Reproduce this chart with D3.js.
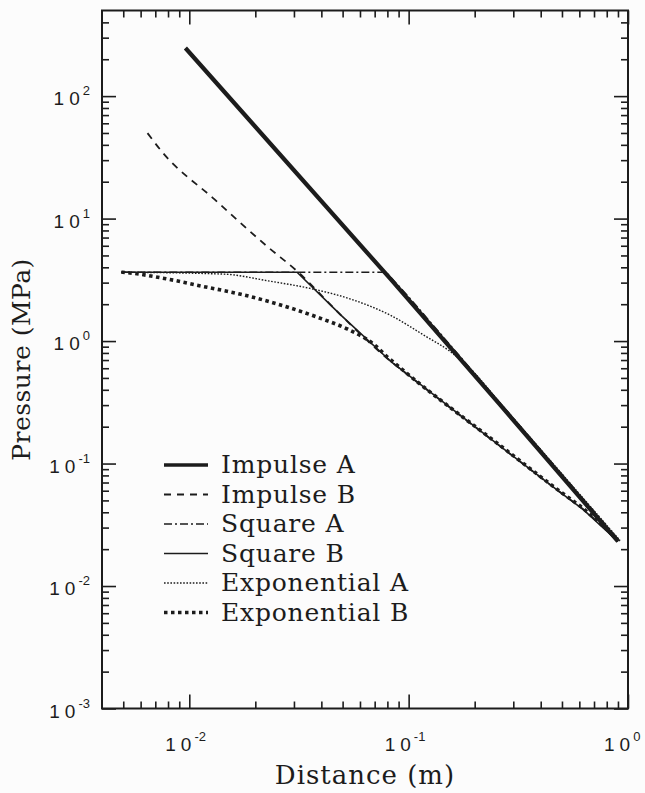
<!DOCTYPE html>
<html>
<head>
<meta charset="utf-8">
<script src="https://cdn.jsdelivr.net/npm/d3@7"></script>
<style>
  html, body { margin: 0; padding: 0; background: #fcfcfc; }
  svg { display: block; }
</style>
</head>
<body>
<script>
// Peak pressure versus distance for six source models, [distance (m), pressure (MPa)]
const impulseA = [[0.0096, 247], [0.0828, 3.2], [0.262, 0.30], [0.90, 0.0231]];
const impulseB = [[0.00645, 49.9], [0.00746, 35.6], [0.0130, 14.4], [0.0229, 5.83], [0.031, 3.72],
                  [0.0491, 1.63], [0.0828, 0.684], [0.092, 0.589], [0.262, 0.138], [0.491, 0.0582],
                  [0.624, 0.0423], [0.90, 0.0231]];
const squareA = [[0.0049, 3.65], [0.079, 3.65], [0.1, 2.3], [0.262, 0.31], [0.92, 0.0232]];
const squareB = [[0.0049, 3.65], [0.031, 3.65], [0.0491, 1.63], [0.0828, 0.684], [0.092, 0.589],
                 [0.262, 0.138], [0.491, 0.0582], [0.624, 0.0423], [0.90, 0.0231]];
const exponentialA = [[0.0049, 3.65], [0.0144, 3.52], [0.0229, 3.10], [0.0359, 2.68], [0.0545, 2.20],
                      [0.0828, 1.62], [0.119, 1.10], [0.155, 0.82], [0.19, 0.60],
                      [0.262, 0.31], [0.92, 0.0235]];
const exponentialB = [[0.0049, 3.65], [0.00518, 3.62], [0.00803, 3.20], [0.01135, 2.81], [0.0172, 2.41],
                      [0.0254, 2.00], [0.0386, 1.56], [0.0528, 1.25], [0.0693, 0.942], [0.0803, 0.738],
                      [0.092, 0.60], [0.262, 0.140], [0.491, 0.059], [0.624, 0.043], [0.92, 0.0228]];

const seriesNames = ["Impulse A", "Impulse B", "Square A", "Square B", "Exponential A", "Exponential B"];
const seriesData = [impulseA, impulseB, squareA, squareB, exponentialA, exponentialB];

const xDomain = [0.004, 1];
const yDomain = [0.001, 500];
const xMajorExp = [-2, -1, 0];
const yMajorExp = [-3, -2, -1, 0, 1, 2];
const xTitle = "Distance (m)";
const yTitle = "Pressure (MPa)";

// Stroke style per series
const styles = [
  { w: 4.2, dash: null, curve: d3.curveLinear },
  { w: 1.8, dash: "7,6", curve: d3.curveMonotoneX },
  { w: 1.4, dash: "8,3,2,3", curve: d3.curveLinear },
  { w: 1.6, dash: null, curve: d3.curveLinear },
  { w: 1.4, dash: "1.6,1.6", curve: d3.curveMonotoneX },
  { w: 3.6, dash: "3.5,3.5", curve: d3.curveMonotoneX }
];

const W = 645, H = 793;
const L = 102, R = 628, T = 10.5, B = 708.5;
const ink = "#1c1c1c";

const svg = d3.select("body").append("svg").attr("width", W).attr("height", H);

const x = d3.scaleLog().domain(xDomain).range([L, R]);
const y = d3.scaleLog().domain(yDomain).range([B, T]);

// tick values
function minors(lo, hi) {
  const out = [];
  for (let e = Math.floor(Math.log10(lo)); e <= Math.ceil(Math.log10(hi)); e++) {
    for (let m = 2; m <= 9; m++) {
      const v = m * Math.pow(10, e);
      if (v > lo * 1.0001 && v < hi * 0.9999) out.push(v);
    }
  }
  return out;
}
const xMajor = xMajorExp.map(e => Math.pow(10, e));
const yMajor = yMajorExp.map(e => Math.pow(10, e));
const xMinor = minors(xDomain[0], xDomain[1]);
const yMinor = minors(yDomain[0], yDomain[1]);

const MAJ = 14, MIN = 7;
function addAxis(gen, tx, ty) {
  const g = svg.append("g").attr("transform", `translate(${tx},${ty})`).call(gen);
  g.select(".domain").remove();
  g.selectAll("text").remove();
  g.selectAll("line").attr("stroke", ink).attr("stroke-width", 1.6);
}
// bottom / top
addAxis(d3.axisBottom(x).tickValues(xMajor).tickSize(-MAJ), 0, B);
addAxis(d3.axisBottom(x).tickValues(xMinor).tickSize(-MIN), 0, B);
addAxis(d3.axisTop(x).tickValues(xMajor).tickSize(-MAJ), 0, T);
addAxis(d3.axisTop(x).tickValues(xMinor).tickSize(-MIN), 0, T);
// left / right
addAxis(d3.axisLeft(y).tickValues(yMajor).tickSize(-MAJ), L, 0);
addAxis(d3.axisLeft(y).tickValues(yMinor).tickSize(-MIN), L, 0);
addAxis(d3.axisRight(y).tickValues(yMajor).tickSize(-MAJ), R, 0);
addAxis(d3.axisRight(y).tickValues(yMinor).tickSize(-MIN), R, 0);

// frame
svg.append("rect").attr("x", L).attr("y", T).attr("width", R - L).attr("height", B - T)
  .attr("fill", "none").attr("stroke", ink).attr("stroke-width", 2);

// tick labels: 10 with superscript exponent
const tickFont = "'Liberation Sans', Arial, sans-serif";
function powerLabel(sel, e) {
  sel.append("tspan").text("1");
  sel.append("tspan").attr("dx", 5).text("0");
  sel.append("tspan").attr("font-size", 13).attr("dy", -10).attr("dx", 3).text(String(e));
}
// x labels: the "10" part ends just right of its tick, exponent beyond
xMajorExp.forEach(e => {
  const t = svg.append("text").attr("x", x(Math.pow(10, e)) - 24).attr("y", B + 42)
    .attr("text-anchor", "start").attr("font-family", tickFont).attr("font-size", 19).attr("fill", ink);
  powerLabel(t, e);
});
yMajorExp.forEach(e => {
  const t = svg.append("text").attr("x", 90).attr("y", y(Math.pow(10, e)) + 9)
    .attr("text-anchor", "end").attr("font-family", tickFont).attr("font-size", 19).attr("fill", ink);
  powerLabel(t, e);
});

// axis titles
const serif = "'DejaVu Serif', 'Liberation Serif', serif";
svg.append("text").attr("x", (L + R) / 2).attr("y", 784).attr("text-anchor", "middle")
  .attr("font-family", serif).attr("font-size", 26).attr("letter-spacing", 1).attr("fill", ink).text(xTitle);
svg.append("text").attr("transform", `translate(30,${(T + B) / 2}) rotate(-90)`).attr("text-anchor", "middle")
  .attr("font-family", serif).attr("font-size", 25).attr("letter-spacing", 0.5).attr("fill", ink).text(yTitle);

// curves
const plot = svg.append("g");
seriesData.forEach((d, i) => {
  const st = styles[i];
  const line = d3.line().x(p => x(p[0])).y(p => y(p[1])).curve(st.curve);
  plot.append("path").datum(d).attr("d", line).attr("fill", "none")
    .attr("stroke", ink).attr("stroke-width", st.w)
    .attr("stroke-dasharray", st.dash).attr("stroke-linejoin", "round");
});

// legend
const lg = svg.append("g");
seriesNames.forEach((name, i) => {
  const st = styles[i];
  const ly = 465 + i * 29.5;
  lg.append("line").attr("x1", 164).attr("x2", 208).attr("y1", ly).attr("y2", ly)
    .attr("stroke", ink).attr("stroke-width", Math.min(st.w, 3.6)).attr("stroke-dasharray", st.dash);
  lg.append("text").attr("x", 221).attr("y", ly + 8).attr("font-family", serif).attr("font-size", 25)
    .attr("letter-spacing", 0.8).attr("fill", ink).text(name);
});
</script>
</body>
</html>
